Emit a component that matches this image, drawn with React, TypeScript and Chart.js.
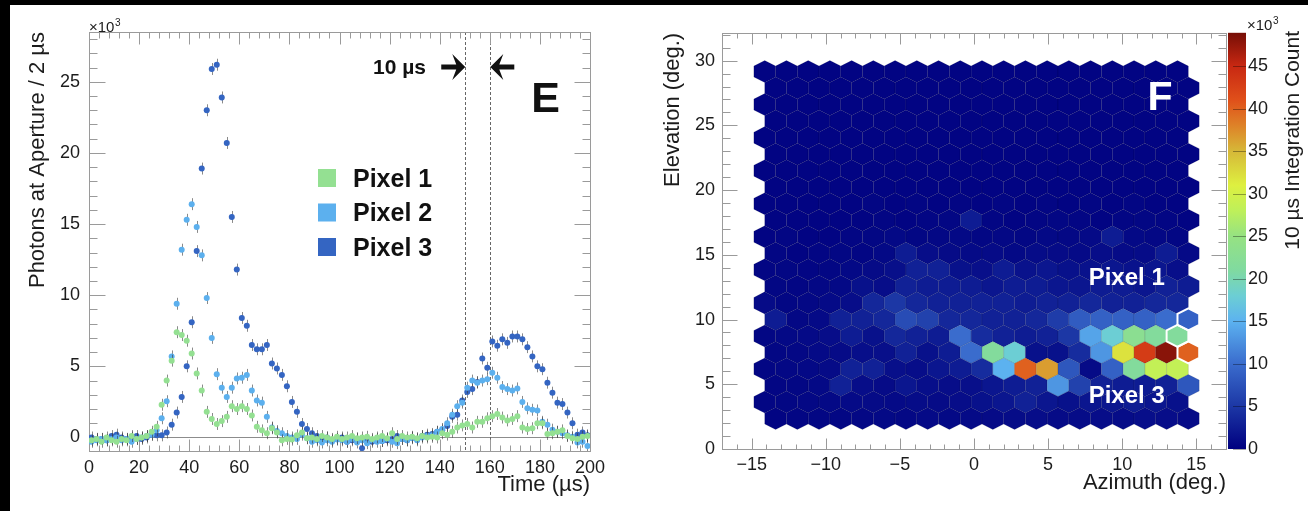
import React, { useEffect, useRef } from 'react';
import { Chart, registerables } from 'chart.js';

Chart.register(...registerables);

const FONT = "'Liberation Sans', Arial, Helvetica, sans-serif";
const TEXT = '#1c1c1c';
const FRAME = '#9a9a9a';
Chart.defaults.font.family = FONT;

// ---------------- Panel E : photons per 2 µs bin (thousands) ----------------
const TIME_BIN_START = 1; // centre of first 2 µs bin
const TIME_BIN_WIDTH = 2;

const PIXEL1_PHOTONS = [
  -0.2, -0.1, -0.3, 0.0, -0.2, -0.3, -0.1, -0.2, 0.1, -0.1,
  0.0, 0.1, 0.4, 0.75, 2.3, 4.0, 5.4, 7.4, 7.2, 6.8,
  5.9, 4.5, 3.3, 1.8, 1.3, 0.95, 1.15, 1.45, 2.2, 2.0,
  2.2, 2.0, 1.55, 0.75, 0.5, 0.3, 0.65, 0.35, -0.2, -0.1,
  -0.15, 0.15, 0.35, -0.05, 0.0, -0.1, 0.1, 0.0, -0.1, 0.05,
  -0.1, 0.0, 0.1, -0.05, 0.0, 0.05, -0.1, 0.0, 0.1, -0.05,
  0.3, -0.1, 0.1, 0.0, 0.05, -0.05, 0.1, 0.0, 0.05, 0.0,
  0.3, 0.2, 0.4, 0.7, 0.85, 0.95, 0.7, 1.1, 1.1, 1.35,
  1.5, 1.65, 1.4, 1.2, 1.3, 1.5, 0.7, 0.6, 0.65, 1.0,
  1.0, 0.25, 0.3, 0.4, 0.5, 0.1, -0.05, -0.1, 0.05, 0.1,
];
const PIXEL2_PHOTONS = [
  -0.3, -0.2, -0.1, -0.2, -0.1, 0.0, -0.2, -0.1, -0.3, -0.1,
  0.0, 0.1, 0.2, 0.5, 1.35, 2.55, 5.7, 9.4, 13.2, 15.3,
  16.4, 14.8, 12.8, 9.8, 7.0, 4.45, 3.5, 2.85, 3.5, 4.15,
  4.2, 4.4, 3.3, 2.6, 2.45, 1.45, 0.7, 0.45, 0.3, 0.1,
  0.0, -0.1, 0.2, -0.05, -0.3, -0.2, -0.35, -0.2, -0.3, -0.15,
  -0.2, -0.3, -0.1, -0.35, -0.2, -0.4, -0.2, -0.3, -0.25, -0.1,
  -0.3, -0.4, -0.1, -0.2, -0.05, -0.2, 0.0, 0.1, 0.15, 0.4,
  0.6, 1.0, 1.6, 2.2, 2.45, 3.5, 4.0, 3.85, 4.0, 4.1,
  4.55, 4.2, 3.55, 3.4, 3.3, 3.45, 2.5, 2.05, 1.95, 1.9,
  1.1, 0.9, 0.55, 0.4, 0.3, 0.15, 0.05, -0.35, -0.3, -0.6,
];
const PIXEL3_PHOTONS = [
  0.0, -0.1, -0.1, -0.2, 0.1, 0.2, 0.0, -0.1, 0.0, 0.1,
  -0.1, 0.0, 0.2, 0.15, 0.15, 0.35, 0.9, 1.75, 2.85, 5.0,
  8.1, 13.1, 18.9, 23.0, 25.9, 26.2, 23.9, 20.7, 15.5, 11.8,
  8.4, 7.85, 6.5, 6.2, 6.2, 6.5, 5.2, 4.85, 4.4, 3.6,
  2.5, 1.8, 0.95, 0.6, 0.3, 0.1, -0.1, 0.0, -0.2, -0.1,
  0.0, -0.3, -0.2, -0.1, -0.75, -0.2, -0.3, -0.1, -0.25, -0.2,
  -0.1, 0.1, -0.1, -0.2, 0.0, -0.1, 0.1, 0.2, 0.25, 0.4,
  0.5, 0.8, 1.45, 1.6, 2.6, 3.2, 3.4, 3.9, 5.55, 4.9,
  6.75, 6.45, 6.9, 6.65, 7.1, 7.1, 6.9, 6.35, 5.7, 5.0,
  4.8, 3.85, 3.15, 2.45, 2.35, 1.75, 1.0, 0.2, 0.35, 0.15,
];
const PIXEL_LABELS = ['Pixel 1', 'Pixel 2', 'Pixel 3'];
const PIXEL_COLORS = ['#94e092', '#5cb0ee', '#3465c2'];
const PHOTON_ERROR = 0.42;
const TIME_TICKS = [0, 20, 40, 60, 80, 100, 120, 140, 160, 180, 200];
const PHOTON_TICKS = [0, 5, 10, 15, 20, 25];
const WINDOW_EDGES = [150, 160];
const WINDOW_LABEL = '10 µs';
const PANEL_E_LABEL = 'E';

// ---------------- Panel F : hexagonal sky map (thousands) ----------------
const AZIMUTH_TICKS = [-15, -10, -5, 0, 5, 10, 15];
const ELEVATION_TICKS = [0, 5, 10, 15, 20, 25, 30];
const COUNT_TICKS = [0, 5, 10, 15, 20, 25, 30, 35, 40, 45];
const COUNT_MAX = 48.9;
const HEX_AZ_START = -14.85;
const HEX_WIDTH = 1.4655;
const HEX_EL_START = 1.5;
const HEX_SIDE = 0.851;
// top row first; 20 hexagons per row
const HEX_COUNTS = [
  [0.4, 0.4, 0.4, 0.4, 0.4, 0.4, 0.4, 0.4, 0.4, 0.4, 0.4, 0.4, 0.4, 0.4, 0.4, 0.4, 0.4, 0.4, 0.4, 0.4],
  [0.4, 0.4, 0.4, 0.4, 0.4, 0.4, 0.4, 0.4, 0.4, 0.4, 0.4, 0.4, 0.4, 0.4, 0.4, 0.4, 0.4, 0.4, 0.4, 0.4],
  [0.4, 0.4, 0.4, 0.4, 0.4, 0.4, 0.4, 0.4, 0.4, 0.4, 0.4, 0.4, 0.4, 0.4, 0.4, 0.4, 0.4, 0.4, 0.4, 0.4],
  [0.4, 0.4, 0.4, 0.4, 0.4, 0.4, 0.4, 0.4, 0.4, 0.4, 0.4, 0.4, 0.4, 0.4, 0.4, 0.4, 0.4, 0.4, 0.4, 0.4],
  [0.4, 0.4, 0.4, 0.4, 0.4, 0.4, 0.4, 0.4, 0.4, 0.4, 0.4, 0.4, 0.4, 0.4, 0.4, 0.4, 0.4, 0.4, 0.4, 0.4],
  [0.4, 0.4, 0.4, 0.4, 0.4, 0.4, 0.4, 0.4, 0.4, 0.4, 0.4, 0.4, 0.4, 0.4, 0.4, 0.4, 0.4, 0.4, 0.4, 0.4],
  [0.4, 0.4, 0.4, 0.4, 0.4, 0.4, 0.4, 0.4, 0.4, 0.4, 0.4, 0.4, 0.4, 0.4, 0.4, 0.4, 0.4, 0.4, 0.4, 0.4],
  [0.4, 0.4, 0.4, 0.4, 0.4, 0.4, 0.4, 0.4, 0.4, 0.4, 0.4, 0.4, 0.4, 0.4, 0.4, 0.4, 0.4, 0.4, 0.4, 0.4],
  [0.4, 0.4, 0.4, 0.4, 0.4, 0.5, 0.4, 0.5, 0.4, 0.5, 0.4, 0.5, 0.4, 0.5, 0.4, 0.5, 0.4, 0.5, 0.4, 0.4],
  [0.4, 0.4, 0.4, 0.4, 0.4, 0.5, 0.4, 0.5, 0.6, 2.5, 0.5, 0.4, 0.5, 0.6, 0.5, 0.4, 0.5, 0.6, 0.5, 0.4],
  [0.4, 0.5, 0.4, 0.4, 0.5, 0.6, 0.8, 0.6, 0.7, 0.8, 0.6, 0.7, 0.6, 0.8, 0.7, 0.9, 2.5, 0.8, 0.7, 0.6],
  [0.5, 0.4, 0.5, 0.6, 0.5, 0.8, 2.5, 1.2, 1.0, 0.9, 1.0, 0.8, 1.1, 1.0, 0.9, 1.2, 1.0, 1.1, 2.5, 0.9],
  [0.5, 0.6, 0.5, 0.6, 0.8, 1.0, 1.4, 3.0, 3.0, 1.5, 1.4, 2.5, 1.6, 2.0, 1.5, 1.6, 2.0, 1.6, 2.0, 1.4],
  [0.6, 0.5, 0.7, 0.8, 1.5, 1.2, 3.0, 2.5, 2.5, 2.5, 2.0, 2.5, 2.5, 2.0, 2.0, 2.5, 2.5, 2.0, 3.0, 2.5],
  [1.0, 0.6, 0.7, 0.9, 1.2, 3.5, 5.0, 3.5, 3.0, 3.0, 3.0, 3.0, 2.5, 3.0, 3.0, 3.5, 3.0, 3.0, 3.5, 3.5],
  [2.5, 0.7, 0.9, 3.0, 3.0, 3.5, 7.0, 6.0, 3.5, 3.5, 3.0, 3.0, 3.5, 5.5, 8.5, 9.0, 9.0, 9.0, 10.0, 9.0],
  [0.6, 0.8, 0.9, 1.2, 2.5, 1.5, 3.5, 3.0, 2.5, 10.0, 4.0, 3.0, 2.5, 3.0, 5.0, 14.0, 18.0, 23.0, 21.5, 21.5],
  [0.6, 0.7, 0.9, 1.0, 1.3, 1.4, 3.0, 1.5, 2.5, 10.0, 21.5, 18.0, 1.5, 1.5, 4.0, 13.0, 32.0, 43.0, 48.0, 40.0],
  [0.5, 0.7, 0.8, 1.0, 3.0, 3.0, 1.4, 1.2, 2.0, 2.5, 4.0, 15.0, 40.0, 36.5, 8.0, 1.0, 9.0, 21.5, 28.5, 28.5],
  [0.5, 0.6, 0.8, 3.0, 1.2, 1.0, 2.0, 1.3, 1.2, 1.4, 2.0, 2.5, 3.0, 13.0, 6.0, 3.0, 2.5, 2.5, 3.0, 8.0],
  [0.5, 0.6, 0.7, 0.8, 0.9, 1.0, 0.9, 1.1, 1.0, 1.2, 1.5, 2.0, 3.0, 2.0, 1.5, 2.0, 2.0, 2.5, 2.0, 1.5],
  [0.4, 0.5, 0.6, 0.6, 0.7, 0.8, 0.7, 0.9, 0.8, 0.9, 1.0, 1.1, 1.2, 1.0, 1.1, 1.2, 1.1, 1.3, 1.2, 1.0],
];
// [row counted from the bottom, column]
const OUTLINED_HEXES = [[4, 19], [5, 19], [6, 19]];
const PANEL_F_LABEL = 'F';
const MAP_LABELS = ['Pixel 1', 'Pixel 3'];

// colour palette (value in thousands -> rgb)
const PALETTE_STOPS = [0, 5, 10, 15, 18, 21, 25, 28, 31, 35, 38, 41, 45, 48.9];
const PALETTE_RGB = [
  [0, 0, 128], [28, 55, 165], [58, 108, 205], [92, 178, 240], [108, 206, 212], [128, 218, 160],
  [150, 226, 130], [190, 240, 90], [222, 240, 64], [214, 184, 56], [222, 130, 40], [224, 80, 26],
  [200, 40, 18], [118, 14, 6],
];

if (typeof document !== 'undefined') {
  document.documentElement.style.overflow = 'hidden';
  document.documentElement.style.background = '#ffffff';
  document.body.style.margin = '0';
  document.body.style.overflow = 'hidden';
  document.body.style.background = '#ffffff';
}

function paletteColor(v: number): string {
  const s = PALETTE_STOPS;
  const P = PALETTE_RGB;
  if (v <= s[0]) return `rgb(${P[0].join(',')})`;
  for (let i = 1; i < s.length; i++) {
    if (v <= s[i]) {
      const t = (v - s[i - 1]) / (s[i] - s[i - 1]);
      const a = P[i - 1];
      const b = P[i];
      const c = a.map((x, k) => Math.round(x + (b[k] - x) * t));
      return `rgb(${c.join(',')})`;
    }
  }
  return `rgb(${P[P.length - 1].join(',')})`;
}

function drawRootAxes(ctx: any, area: any, xs: any, ys: any, o: any) {
  ctx.save();
  ctx.strokeStyle = FRAME;
  ctx.lineWidth = 1;
  const L = Math.round(area.left) + 0.5;
  const R = Math.round(area.right) + 0.5;
  const T = Math.round(area.top) + 0.5;
  const B = Math.round(area.bottom) + 0.5;
  ctx.strokeRect(L, T, R - L, B - T);
  ctx.beginPath();
  const k0 = Math.ceil(xs.min / o.xMinor - 1e-6);
  const k1 = Math.floor(xs.max / o.xMinor + 1e-6);
  for (let k = k0; k <= k1; k++) {
    const v = k * o.xMinor;
    const major = Math.abs(v / o.xMajor - Math.round(v / o.xMajor)) < 1e-6;
    const len = major ? o.xMajLen : o.xMinLen;
    const px = Math.round(xs.getPixelForValue(v)) + 0.5;
    ctx.moveTo(px, B); ctx.lineTo(px, B - len);
    ctx.moveTo(px, T); ctx.lineTo(px, T + len);
  }
  const j0 = Math.ceil(ys.min / o.yMinor - 1e-6);
  const j1 = Math.floor(ys.max / o.yMinor + 1e-6);
  for (let j = j0; j <= j1; j++) {
    const v = j * o.yMinor;
    const major = Math.abs(v / o.yMajor - Math.round(v / o.yMajor)) < 1e-6;
    const len = major ? o.yMajLen : o.yMinLen;
    const py = Math.round(ys.getPixelForValue(v)) + 0.5;
    ctx.moveTo(L, py); ctx.lineTo(L + len, py);
    ctx.moveTo(R, py); ctx.lineTo(R - len, py);
  }
  ctx.stroke();
  ctx.restore();
}

function drawTimesTen(ctx: any, x: number, baseline: number) {
  ctx.save();
  ctx.fillStyle = TEXT;
  ctx.textAlign = 'left';
  ctx.textBaseline = 'alphabetic';
  ctx.font = `15px ${FONT}`;
  ctx.fillText('×10', x, baseline);
  const w = ctx.measureText('×10').width;
  ctx.font = `10px ${FONT}`;
  ctx.fillText('3', x + w + 0.5, baseline - 6);
  ctx.restore();
}

function drawArrow(ctx: any, tipX: number, y: number, dir: number) {
  const headLen = 13, headHalf = 13, notch = 4, shaftLen = 11, shaftHalf = 2.6;
  ctx.beginPath();
  ctx.moveTo(tipX, y);
  ctx.lineTo(tipX - dir * headLen, y - headHalf);
  ctx.lineTo(tipX - dir * (headLen - notch), y - shaftHalf);
  ctx.lineTo(tipX - dir * (headLen + shaftLen), y - shaftHalf);
  ctx.lineTo(tipX - dir * (headLen + shaftLen), y + shaftHalf);
  ctx.lineTo(tipX - dir * (headLen - notch), y + shaftHalf);
  ctx.lineTo(tipX - dir * headLen, y + headHalf);
  ctx.closePath();
  ctx.fill();
}

const lightCurvePlugin = {
  id: 'lightCurve',
  beforeDatasetsDraw(chart: any) {
    const { ctx, chartArea: a, scales } = chart;
    const xs = scales.x, ys = scales.y;
    ctx.save();
    // zero line
    const y0 = Math.round(ys.getPixelForValue(0)) + 0.5;
    ctx.strokeStyle = '#8c8c8c';
    ctx.lineWidth = 1;
    ctx.beginPath();
    ctx.moveTo(a.left, y0); ctx.lineTo(a.right, y0);
    ctx.stroke();
    // integration window
    ctx.strokeStyle = '#666';
    ctx.setLineDash([3, 2]);
    ctx.beginPath();
    WINDOW_EDGES.forEach((t) => {
      const px = Math.round(xs.getPixelForValue(t)) + 0.5;
      ctx.moveTo(px, a.top); ctx.lineTo(px, a.bottom);
    });
    ctx.stroke();
    ctx.setLineDash([]);
    ctx.restore();
    drawRootAxes(ctx, a, xs, ys, {
      xMinor: 4, xMajor: 20, yMinor: 1, yMajor: 5,
      xMajLen: 12, xMinLen: 6, yMajLen: 16, yMinLen: 8,
    });
  },
  beforeDatasetDraw(chart: any, args: any) {
    const { ctx, scales } = chart;
    const ys = scales.y;
    const ds = chart.data.datasets[args.index];
    ctx.save();
    ctx.beginPath();
    ctx.rect(chart.chartArea.left, chart.chartArea.top, chart.chartArea.width, chart.chartArea.height);
    ctx.clip();
    ctx.strokeStyle = 'rgba(60,60,60,0.6)';
    ctx.lineWidth = 1;
    ctx.beginPath();
    args.meta.data.forEach((el: any, i: number) => {
      const v = ds.data[i].y;
      const x = Math.round(el.x) + 0.5;
      ctx.moveTo(x, ys.getPixelForValue(v + PHOTON_ERROR));
      ctx.lineTo(x, ys.getPixelForValue(v - PHOTON_ERROR));
    });
    ctx.stroke();
    ctx.restore();
  },
  afterDatasetsDraw(chart: any) {
    const { ctx } = chart;
    ctx.save();
    // legend
    PIXEL_LABELS.forEach((lab, i) => {
      const cy = 178 + i * 34.5;
      ctx.fillStyle = PIXEL_COLORS[i];
      ctx.fillRect(318, cy - 9, 18, 18);
      ctx.fillStyle = '#111';
      ctx.font = `bold 25px ${FONT}`;
      ctx.textAlign = 'left';
      ctx.textBaseline = 'alphabetic';
      ctx.fillText(lab, 353, cy + 8.5);
    });
    // window annotation
    ctx.fillStyle = '#111';
    ctx.font = `bold 21px ${FONT}`;
    ctx.textAlign = 'right';
    ctx.fillText(WINDOW_LABEL, 426, 74);
    const xs = chart.scales.x;
    drawArrow(ctx, xs.getPixelForValue(WINDOW_EDGES[0]) + 0.5, 67, 1);
    drawArrow(ctx, xs.getPixelForValue(WINDOW_EDGES[1]) + 0.5, 67, -1);
    // panel letter
    ctx.font = `bold 43px ${FONT}`;
    ctx.textAlign = 'center';
    ctx.fillText(PANEL_E_LABEL, 545.5, 111.5);
    ctx.restore();
    drawTimesTen(ctx, 89, 31.5);
  },
};

const CB_GAP = 2;
const CB_WIDTH = 18;

const skyMapPlugin = {
  id: 'skyMap',
  beforeDatasetsDraw(chart: any) {
    const { ctx, chartArea: a, scales } = chart;
    const xs = scales.x, ys = scales.y, cb = scales.cb;
    const ds = chart.data.datasets[0];
    const meta = chart.getDatasetMeta(0);
    const hw = Math.abs(xs.getPixelForValue(HEX_WIDTH / 2) - xs.getPixelForValue(0));
    const rv = Math.abs(ys.getPixelForValue(HEX_SIDE) - ys.getPixelForValue(0));
    const hexPath = (cx: number, cy: number) => {
      ctx.beginPath();
      ctx.moveTo(cx, cy - rv);
      ctx.lineTo(cx + hw, cy - rv / 2);
      ctx.lineTo(cx + hw, cy + rv / 2);
      ctx.lineTo(cx, cy + rv);
      ctx.lineTo(cx - hw, cy + rv / 2);
      ctx.lineTo(cx - hw, cy - rv / 2);
      ctx.closePath();
    };
    ctx.save();
    meta.data.forEach((el: any, i: number) => {
      const p = ds.data[i];
      hexPath(el.x, el.y);
      ctx.fillStyle = paletteColor(p.v);
      ctx.fill();
      ctx.strokeStyle = 'rgba(0,0,30,0.14)';
      ctx.lineWidth = 0.8;
      ctx.stroke();
    });
    meta.data.forEach((el: any, i: number) => {
      const p = ds.data[i];
      if (OUTLINED_HEXES.some(([r, c]) => r === p.r && c === p.c)) {
        hexPath(el.x, el.y);
        ctx.strokeStyle = '#ffffff';
        ctx.lineWidth = 2;
        ctx.stroke();
      }
    });
    // colour bar
    const x0 = a.right + CB_GAP;
    const yTop = cb.getPixelForValue(COUNT_MAX);
    const yBot = cb.getPixelForValue(0);
    const g = ctx.createLinearGradient(0, yBot, 0, yTop);
    PALETTE_STOPS.forEach((s, i) => g.addColorStop(Math.min(1, s / COUNT_MAX), `rgb(${PALETTE_RGB[i].join(',')})`));
    ctx.fillStyle = g;
    ctx.fillRect(x0, yTop, CB_WIDTH, yBot - yTop);
    ctx.strokeStyle = 'rgba(0,0,0,0.35)';
    ctx.lineWidth = 1;
    ctx.beginPath();
    COUNT_TICKS.forEach((t) => {
      const py = Math.round(cb.getPixelForValue(t)) + 0.5;
      ctx.moveTo(x0 + CB_WIDTH, py); ctx.lineTo(x0 + CB_WIDTH - 13, py);
    });
    ctx.stroke();
    ctx.restore();
    drawRootAxes(ctx, a, xs, ys, {
      xMinor: 1, xMajor: 5, yMinor: 1, yMajor: 5,
      xMajLen: 11, xMinLen: 5, yMajLen: 15, yMinLen: 8,
    });
  },
  afterDatasetsDraw(chart: any) {
    const { ctx } = chart;
    ctx.save();
    ctx.fillStyle = '#ffffff';
    ctx.textAlign = 'center';
    ctx.textBaseline = 'alphabetic';
    ctx.font = `bold 41px ${FONT}`;
    ctx.fillText(PANEL_F_LABEL, 510, 110);
    ctx.font = `bold 24px ${FONT}`;
    ctx.fillText(MAP_LABELS[0], 476.7, 285);
    ctx.fillText(MAP_LABELS[1], 476.7, 403);
    // colour bar title
    ctx.fillStyle = TEXT;
    ctx.font = `21px ${FONT}`;
    ctx.translate(643, 31);
    ctx.rotate(-Math.PI / 2);
    ctx.textAlign = 'right';
    ctx.textBaseline = 'middle';
    ctx.fillText('10 µs Integration Count', 0, 0);
    ctx.restore();
    drawTimesTen(ctx, 597, 30);
  },
};

const minusLabel = (v: any) => (Number(v) < 0 ? '\u2212' + Math.abs(Number(v)) : String(v));

function makeLeftChart(canvas: HTMLCanvasElement) {
  const series = [PIXEL1_PHOTONS, PIXEL2_PHOTONS, PIXEL3_PHOTONS];
  return new Chart(canvas, {
    type: 'scatter',
    data: {
      datasets: series.map((s, i) => ({
        label: PIXEL_LABELS[i],
        data: s.map((v, k) => ({ x: TIME_BIN_START + k * TIME_BIN_WIDTH, y: v })),
        backgroundColor: PIXEL_COLORS[i],
        borderColor: PIXEL_COLORS[i],
        pointRadius: 3,
        pointHoverRadius: 3,
        pointBorderWidth: 0,
        pointStyle: 'circle',
      })),
    },
    options: {
      responsive: false,
      animation: false,
      devicePixelRatio: 1,
      events: [],
      layout: { padding: { left: 0, right: 60, top: 32, bottom: 0 } },
      plugins: { legend: { display: false }, tooltip: { enabled: false } },
      scales: {
        x: {
          type: 'linear', position: 'bottom', min: 0, max: 200,
          afterBuildTicks: (s: any) => { s.ticks = TIME_TICKS.map((v) => ({ value: v })); },
          afterFit: (s: any) => { s.height = 60; },
          grid: { display: false, drawTicks: false },
          border: { display: false },
          ticks: { color: TEXT, font: { size: 18 }, padding: 6.5, maxRotation: 0, autoSkip: false },
          title: { display: true, text: 'Time (µs)', align: 'end', color: TEXT, font: { size: 22 }, padding: { top: 0, bottom: 13 } },
        },
        y: {
          type: 'linear', position: 'left', min: -0.95, max: 28.5,
          afterBuildTicks: (s: any) => { s.ticks = PHOTON_TICKS.map((v) => ({ value: v })); },
          afterFit: (s: any) => { s.width = 89; },
          grid: { display: false, drawTicks: false },
          border: { display: false },
          ticks: { color: TEXT, font: { size: 18 }, padding: 9, autoSkip: false },
          title: { display: true, text: 'Photons at Aperture / 2 µs', align: 'end', color: TEXT, font: { size: 22 }, padding: { top: 25, bottom: 0 } },
        },
      },
    } as any,
    plugins: [lightCurvePlugin],
  } as any);
}

function makeRightChart(canvas: HTMLCanvasElement) {
  const points: any[] = [];
  HEX_COUNTS.forEach((row, iTop) => {
    const r = HEX_COUNTS.length - 1 - iTop;
    const shifted = r % 2 === 0;
    row.forEach((v, c) => {
      points.push({
        x: HEX_AZ_START + HEX_WIDTH * (c + 0.5 + (shifted ? 0.5 : 0)),
        y: HEX_EL_START + HEX_SIDE * (1 + 1.5 * r),
        v, r, c,
      });
    });
  });
  return new Chart(canvas, {
    type: 'scatter',
    data: {
      datasets: [{ label: 'counts', data: points, pointRadius: 0, pointHoverRadius: 0, backgroundColor: 'transparent', borderColor: 'transparent' }],
    },
    options: {
      responsive: false,
      animation: false,
      devicePixelRatio: 1,
      events: [],
      layout: { padding: { left: 0, right: 0, top: 31, bottom: 0 } },
      plugins: { legend: { display: false }, tooltip: { enabled: false } },
      scales: {
        x: {
          type: 'linear', position: 'bottom', min: -17, max: 17,
          afterBuildTicks: (s: any) => { s.ticks = AZIMUTH_TICKS.map((v) => ({ value: v })); },
          afterFit: (s: any) => { s.height = 62; },
          grid: { display: false, drawTicks: false },
          border: { display: false },
          ticks: { color: TEXT, font: { size: 18 }, padding: 5.2, maxRotation: 0, autoSkip: false, callback: minusLabel },
          title: { display: true, text: 'Azimuth (deg.)', align: 'end', color: TEXT, font: { size: 22 }, padding: { top: 0, bottom: 15 } },
        },
        y: {
          type: 'linear', position: 'left', min: 0, max: 32.15,
          afterBuildTicks: (s: any) => { s.ticks = ELEVATION_TICKS.map((v) => ({ value: v })); },
          afterFit: (s: any) => { s.width = 72; },
          grid: { display: false, drawTicks: false },
          border: { display: false },
          ticks: { color: TEXT, font: { size: 18 }, padding: 7, autoSkip: false },
          title: { display: true, text: 'Elevation (deg.)', align: 'end', color: TEXT, font: { size: 22 }, padding: { top: 10, bottom: 0 } },
        },
        cb: {
          type: 'linear', position: 'right', min: 0, max: COUNT_MAX,
          afterBuildTicks: (s: any) => { s.ticks = COUNT_TICKS.map((v) => ({ value: v })); },
          afterFit: (s: any) => { s.width = 82; },
          grid: { display: false, drawTicks: false },
          border: { display: false },
          ticks: { color: TEXT, font: { size: 18 }, padding: 22, autoSkip: false },
        },
      },
    } as any,
    plugins: [skyMapPlugin],
  } as any);
}

export default function App() {
  const leftRef = useRef<HTMLCanvasElement>(null);
  const rightRef = useRef<HTMLCanvasElement>(null);
  useEffect(() => {
    document.body.style.margin = '0';
    const c1 = makeLeftChart(leftRef.current as HTMLCanvasElement);
    const c2 = makeRightChart(rightRef.current as HTMLCanvasElement);
    return () => { c1.destroy(); c2.destroy(); };
  }, []);
  return (
    <div style={{ position: 'relative', width: 1308, height: 511, background: '#ffffff', overflow: 'hidden' }}>
      <canvas ref={leftRef} width={650} height={511} style={{ position: 'absolute', left: 0, top: 0, width: 650, height: 511 }} />
      <canvas ref={rightRef} width={658} height={511} style={{ position: 'absolute', left: 650, top: 0, width: 658, height: 511 }} />
      <div style={{ position: 'absolute', left: 0, top: 0, width: 1308, height: 5, background: '#000' }} />
      <div style={{ position: 'absolute', left: 0, top: 0, width: 10, height: 511, background: '#000' }} />
    </div>
  );
}
